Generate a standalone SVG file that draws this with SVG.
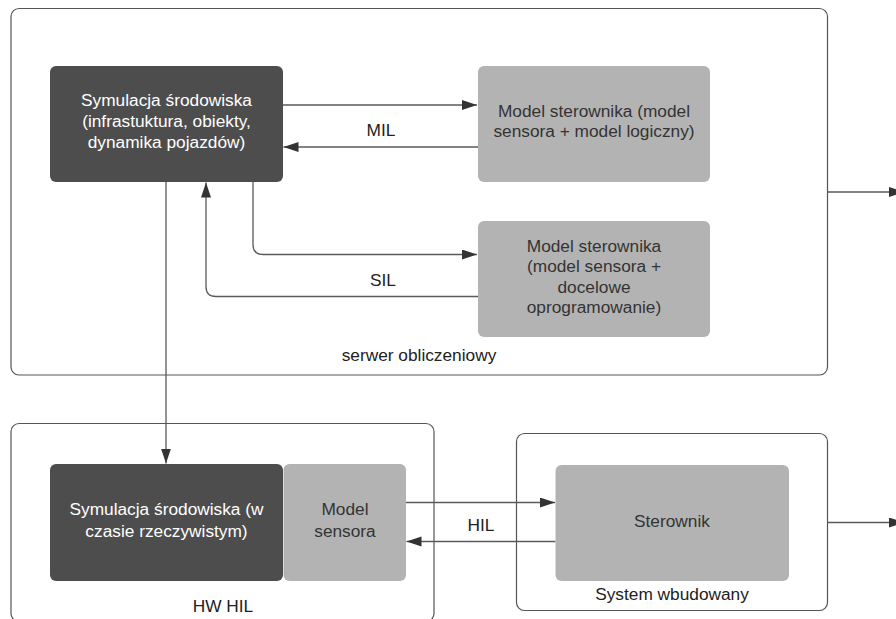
<svg xmlns="http://www.w3.org/2000/svg" width="896" height="619" viewBox="0 0 896 619">
  <style>
    .container { fill: #ffffff; stroke: #555555; stroke-width: 1.2; }
    .dark { fill: #4d4d4d; }
    .light { fill: #b3b3b3; }
    text { font-family: "Liberation Sans", Arial, sans-serif; font-size: 17.3px; text-anchor: middle; }
    .on-dark { fill: #ffffff; }
    .on-light { fill: #333333; }
    .label { fill: #222222; }
    .edge { fill: none; stroke: #5a5a5a; stroke-width: 1.3; marker-end: url(#arrow); }
  </style>
  <defs>
    <marker id="arrow" markerUnits="userSpaceOnUse" markerWidth="16" markerHeight="11" refX="15" refY="5" orient="auto">
      <path d="M0,0 L15,5 L0,10 Z" fill="#333333"/>
    </marker>
  </defs>

  <!-- containers -->
  <g id="serwer">
    <rect class="container" x="11" y="8.5" width="816.5" height="366.5" rx="8"/>
    <text class="label" x="419" y="361">serwer obliczeniowy</text>
  </g>
  <g id="hw-hil">
    <rect class="container" x="11" y="423.5" width="423" height="198" rx="8"/>
    <text class="label" x="223" y="612">HW HIL</text>
  </g>
  <g id="system-wbudowany">
    <rect class="container" x="516.5" y="433.5" width="311" height="177" rx="8"/>
    <text class="label" x="672" y="600">System wbudowany</text>
  </g>

  <!-- connectors -->
  <g id="connectors">
    <!-- MIL -->
    <path class="edge" d="M283 105 H477"/>
    <path class="edge" d="M478 147 H283.5"/>
    <!-- SIL -->
    <path class="edge" d="M253 182 V244.5 Q253 254.5 263 254.5 H477"/>
    <path class="edge" d="M478 296.5 H216 Q206 296.5 206 286.5 V182.5"/>
    <!-- to real-time simulation -->
    <path class="edge" d="M166 182 V463.5"/>
    <!-- HIL -->
    <path class="edge" d="M406 502.5 H555"/>
    <path class="edge" d="M555.5 541.5 H406.5"/>
    <!-- outputs -->
    <path class="edge" d="M828 192 H904"/>
    <path class="edge" d="M828 522.5 H904"/>
    <text class="label" x="381" y="136">MIL</text>
    <text class="label" x="383" y="286">SIL</text>
    <text class="label" x="481" y="531">HIL</text>
  </g>

  <!-- nodes -->
  <g id="symulacja">
    <rect class="dark" x="50" y="66" width="233" height="116" rx="6"/>
    <text class="on-dark" x="166.5" y="106">Symulacja środowiska</text>
    <text class="on-dark" x="166.5" y="127">(infrastuktura, obiekty,</text>
    <text class="on-dark" x="166.5" y="148">dynamika pojazdów)</text>
  </g>
  <g id="model-mil">
    <rect class="light" x="478" y="66" width="232" height="116" rx="6"/>
    <text class="on-light" x="594" y="116.5">Model sterownika (model</text>
    <text class="on-light" x="594" y="137">sensora + model logiczny)</text>
  </g>
  <g id="model-sil">
    <rect class="light" x="478" y="221" width="232" height="116" rx="6"/>
    <text class="on-light" x="594" y="251.5">Model sterownika</text>
    <text class="on-light" x="594" y="272">(model sensora +</text>
    <text class="on-light" x="594" y="292.5">docelowe</text>
    <text class="on-light" x="594" y="313">oprogramowanie)</text>
  </g>
  <g id="symulacja-rt">
    <rect class="dark" x="50" y="464" width="233" height="117" rx="6"/>
    <text class="on-dark" x="166.5" y="515">Symulacja środowiska (w</text>
    <text class="on-dark" x="166.5" y="536.5">czasie rzeczywistym)</text>
  </g>
  <g id="model-sensora">
    <rect class="light" x="283.5" y="464" width="122.5" height="117" rx="6"/>
    <text class="on-light" x="345" y="515">Model</text>
    <text class="on-light" x="345" y="536.5">sensora</text>
  </g>
  <g id="sterownik">
    <rect class="light" x="555.5" y="465" width="233.5" height="116" rx="6"/>
    <text class="on-light" x="672" y="526.5">Sterownik</text>
  </g>
</svg>
